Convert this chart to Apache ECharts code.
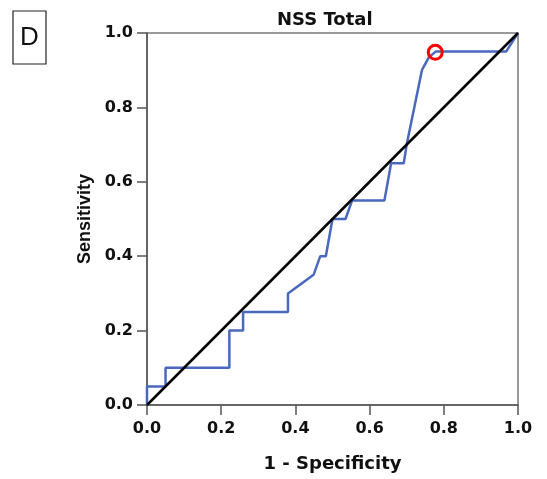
<!DOCTYPE html>
<html>
<head>
<meta charset="utf-8">
<script src="https://cdn.jsdelivr.net/npm/echarts@6/dist/echarts.min.js"></script>
<style>html,body{margin:0;padding:0;background:#fff;}#c{width:547px;height:479px;}</style>
</head>
<body>
<div id="c"></div>
<script>
// ROC curve (1 - Specificity, Sensitivity)
const rocX = [0, 0, 0.05, 0.05, 0.222, 0.222, 0.259, 0.259, 0.38, 0.38, 0.449, 0.467, 0.482, 0.50, 0.535, 0.553, 0.64, 0.658, 0.692, 0.70, 0.741, 0.76, 0.778, 0.968, 1.0];
const rocY = [0, 0.05, 0.05, 0.10, 0.10, 0.20, 0.20, 0.25, 0.25, 0.30, 0.35, 0.40, 0.40, 0.50, 0.50, 0.55, 0.55, 0.65, 0.65, 0.70, 0.90, 0.935, 0.95, 0.95, 1.0];
const refX = [0, 1];
const refY = [0, 1];
const cutoffX = [0.777];
const cutoffY = [0.948];
const tickValues = [0, 0.2, 0.4, 0.6, 0.8, 1.0];

const chart = echarts.init(document.getElementById('c'), null, {renderer: 'canvas'});
const zip = (a, b) => a.map((v, i) => [v, b[i]]);
const labelFont = {fontFamily: 'DejaVu Sans', fontWeight: 'bold', fontSize: 16, color: '#111'};
chart.setOption({
  animation: false,
  backgroundColor: '#fff',
  title: {
    text: 'NSS Total', left: 272, top: 6,
    textStyle: {fontFamily: 'DejaVu Sans', fontWeight: 'bold', fontSize: 18, color: '#111'}
  },
  graphic: [
    {type: 'rect', shape: {x: 13, y: 11, width: 33, height: 53}, style: {fill: '#fff', stroke: '#222', lineWidth: 1.2}},
    {type: 'text', x: 29.5, y: 37.5, style: {text: 'D', fontFamily: 'Liberation Sans', fontSize: 26, fill: '#111', align: 'center', verticalAlign: 'middle'}}
  ],
  grid: {left: 147, right: 29, top: 33, bottom: 74, show: true, borderColor: '#777', borderWidth: 1.5, backgroundColor: 'transparent'},
  xAxis: {
    type: 'value', min: 0, max: 1, interval: 0.2,
    name: '1 - Specificity', nameLocation: 'middle', nameGap: 50,
    nameTextStyle: {fontFamily: 'DejaVu Sans', fontWeight: 'bold', fontSize: 18, color: '#111'},
    axisLine: {show: true, onZero: false, lineStyle: {color: '#555', width: 1.5}},
    axisTick: {show: true, length: 10, lineStyle: {color: '#555', width: 1.5}},
    axisLabel: Object.assign({margin: 16, formatter: v => v.toFixed(1)}, labelFont),
    splitLine: {show: false}
  },
  yAxis: {
    type: 'value', min: 0, max: 1, interval: 0.2,
    name: 'Sensitivity', nameLocation: 'middle', nameGap: 53,
    nameTextStyle: {fontFamily: 'Liberation Sans', fontWeight: 'bold', fontSize: 18, color: '#111'},
    axisLine: {show: true, onZero: false, lineStyle: {color: '#555', width: 1.5}},
    axisTick: {show: true, length: 10, lineStyle: {color: '#555', width: 1.5}},
    axisLabel: Object.assign({margin: 14, formatter: v => v.toFixed(1)}, labelFont),
    splitLine: {show: false}
  },
  series: [
    {
      type: 'line', data: zip(rocX, rocY), showSymbol: false, clip: false, z: 2,
      lineStyle: {color: '#4a68bd', width: 2.5}
    },
    {
      type: 'line', data: zip(refX, refY), showSymbol: false, clip: false, z: 3,
      lineStyle: {color: '#000', width: 2.5}
    },
    {
      type: 'scatter', data: zip(cutoffX, cutoffY), symbol: 'circle', symbolSize: 14, z: 4,
      itemStyle: {color: 'rgba(0,0,0,0)', borderColor: '#ff0000', borderWidth: 3, opacity: 1}
    }
  ]
});
</script>
</body>
</html>
